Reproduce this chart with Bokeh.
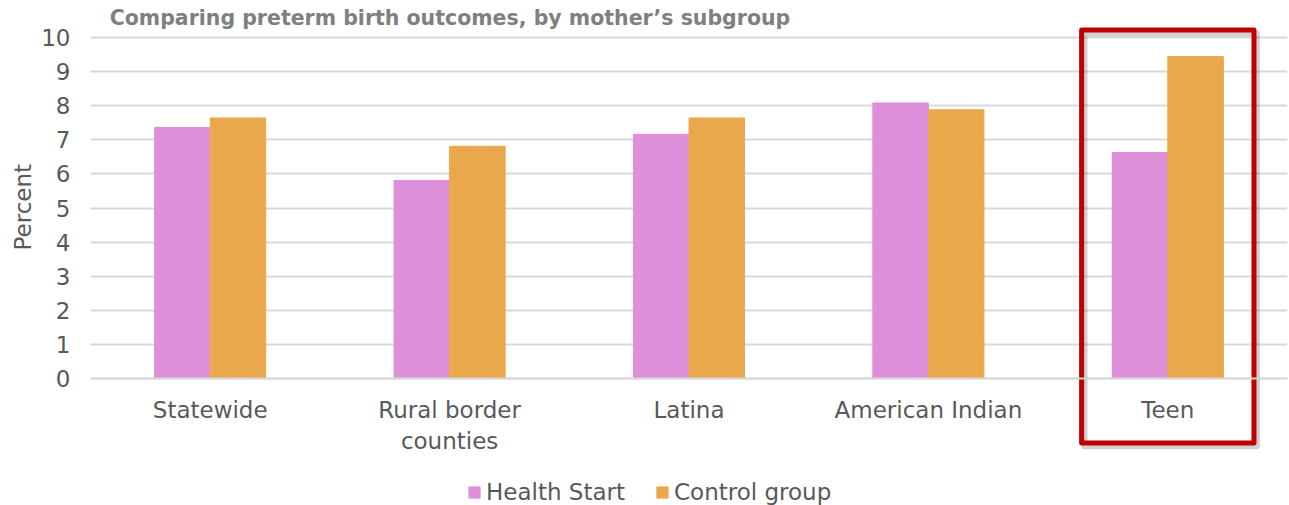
from bokeh.plotting import figure
from bokeh.models import (ColumnDataSource, FactorRange, Range1d, FixedTicker,
                          Legend, LegendItem, Label, Title)
from bokeh.transform import dodge
from bokeh.embed import file_html
from bokeh.resources import INLINE

# ---- data ----
categories = ["Statewide", "Rural border\ncounties", "Latina", "American Indian", "Teen"]
health_start = [7.36, 5.81, 7.16, 8.08, 6.63]
control_group = [7.64, 6.81, 7.64, 7.88, 9.44]
y_ticks = [0, 1, 2, 3, 4, 5, 6, 7, 8, 9, 10]
series_names = ["Health Start", "Control group"]
title_text = "Comparing preterm birth outcomes, by mother\u2019s subgroup"
y_label = "Percent"
highlight = "Teen"

PINK = "#DE8FDA"
ORANGE = "#EAA84C"
TXT = "#595959"
GRID = "#D9D9D9"
FONT = "DejaVu Sans"

src = ColumnDataSource(dict(cat=categories, hs=health_start, cg=control_group))

p = figure(width=1289, height=505,
           x_range=FactorRange(*categories, range_padding=0),
           y_range=Range1d(-3.724, 11.085),
           output_backend="svg", toolbar_location=None,
           min_border_left=90, min_border_right=2,
           min_border_top=0, min_border_bottom=0)
p.outline_line_color = None
p.background_fill_color = "white"

bw = 0.232
r1 = p.vbar(x=dodge("cat", -bw / 2, range=p.x_range), top="hs", width=bw,
            source=src, fill_color=PINK, line_color=PINK)
r2 = p.vbar(x=dodge("cat", bw / 2, range=p.x_range), top="cg", width=bw,
            source=src, fill_color=ORANGE, line_color=ORANGE)

# ---- y axis ----
ticker = FixedTicker(ticks=y_ticks)
p.yaxis.ticker = ticker
p.yaxis.bounds = (0, 10)
p.yaxis.axis_line_color = None
p.yaxis.major_tick_line_color = None
p.yaxis.major_tick_out = 0
p.yaxis.major_tick_in = 0
p.yaxis.minor_tick_line_color = None
p.yaxis.major_label_text_font = FONT
p.yaxis.major_label_text_font_size = "23px"
p.yaxis.major_label_text_color = TXT
p.yaxis.major_label_standoff = 20

p.ygrid.ticker = ticker
p.ygrid.grid_line_color = GRID
p.ygrid.grid_line_width = 2
p.xgrid.visible = False

# y-axis title, placed beside the 0..10 part of the axis
p.add_layout(Title(text=y_label, align="left", offset=255, standoff=6,
                   text_font=FONT, text_font_size="23px",
                   text_font_style="normal", text_color=TXT), "left")

# ---- x axis ----
p.xaxis.fixed_location = 0
p.xaxis.axis_line_color = GRID
p.xaxis.axis_line_width = 2
p.xaxis.major_tick_line_color = None
p.xaxis.major_tick_out = 0
p.xaxis.major_tick_in = 0
p.xaxis.minor_tick_line_color = None
p.xaxis.major_label_text_font = FONT
p.xaxis.major_label_text_font_size = "23px"
p.xaxis.major_label_text_color = TXT
p.xaxis.major_label_standoff = 18

# ---- highlight box around Teen ----
i = categories.index(highlight)
cx = i + 0.5
p.quad(left=[cx - 0.36 + 0.012], right=[cx + 0.36 + 0.012], bottom=[-1.89 - 0.1], top=[10.22 - 0.1],
       fill_color=None, line_color="#000000", line_alpha=0.18, line_width=6, line_join="round")
p.quad(left=[cx - 0.36], right=[cx + 0.36], bottom=[-1.89], top=[10.22],
       fill_color=None, line_color="#C00000", line_width=5, line_join="round")

# ---- title ----
p.add_layout(Label(x=0.08, y=10.56, text=title_text, text_font=FONT,
                   text_font_size="20.5px", text_font_style="bold",
                   text_color="#7F7F7F", text_baseline="middle"))

# ---- legend ----
legend = Legend(items=[LegendItem(label=series_names[0], renderers=[r1]),
                       LegendItem(label=series_names[1], renderers=[r2])],
                location=(377, 0), orientation="horizontal",
                label_text_font=FONT, label_text_font_size="23px",
                label_text_color=TXT, glyph_width=14, glyph_height=14,
                spacing=30, padding=0, margin=0, label_standoff=5,
                border_line_color=None, background_fill_alpha=0)
p.add_layout(legend)

open("out.html", "w").write(file_html(p, INLINE))
